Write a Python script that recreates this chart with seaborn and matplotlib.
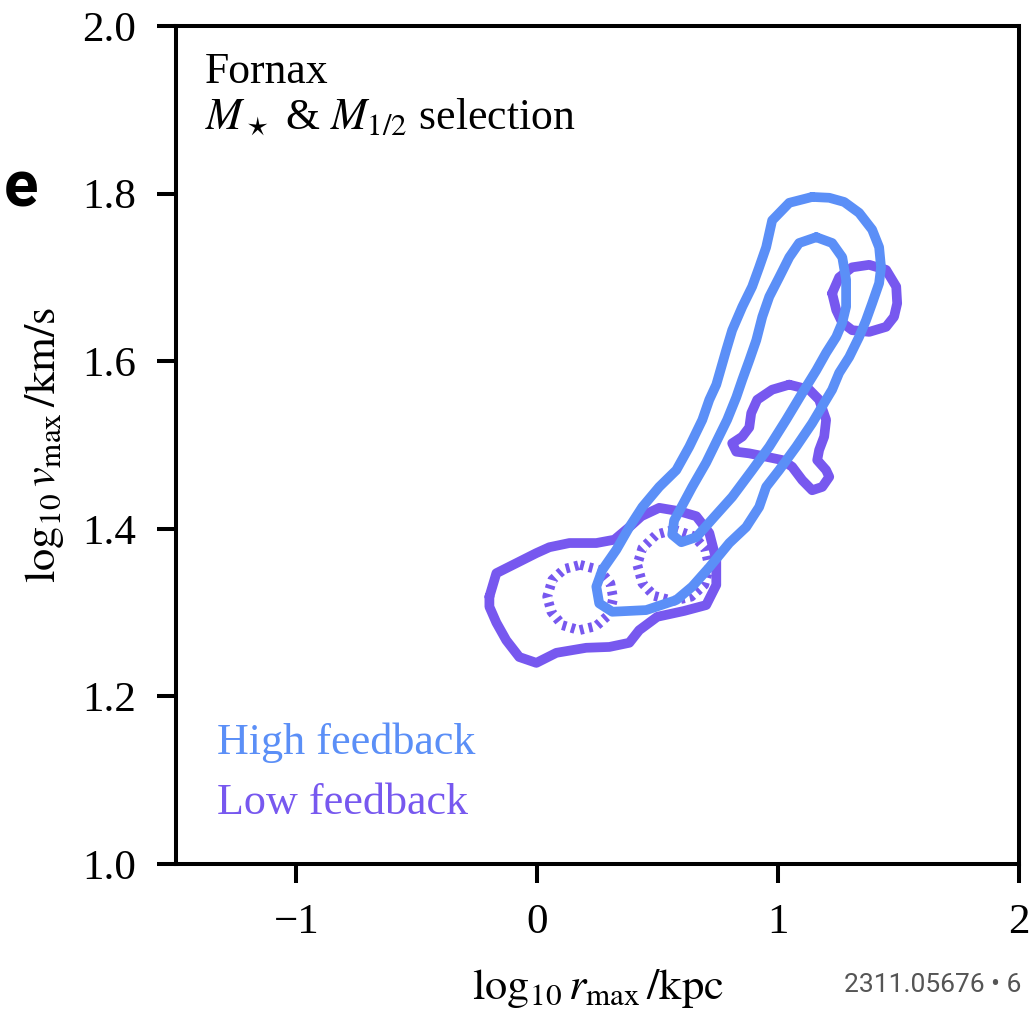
import numpy as np
import pandas as pd
import matplotlib
matplotlib.use('Agg')
import matplotlib.pyplot as plt
import seaborn as sns

# ---------------- data (log10 r_max [kpc], log10 v_max [km/s]) ----------------
# High feedback, outer contour
hi_outer_x = [1.141, 1.212, 1.274, 1.336, 1.390, 1.419, 1.427, 1.419, 1.390, 1.365,
              1.336, 1.295, 1.253, 1.224, 1.199, 1.141, 1.075, 1.004, 0.950, 0.921,
              0.867, 0.797, 0.714, 0.643, 0.577, 0.452, 0.311, 0.257, 0.245, 0.270,
              0.328, 0.382, 0.436, 0.506, 0.577, 0.631, 0.685, 0.714, 0.743, 0.784,
              0.809, 0.851, 0.892, 0.921, 0.950, 0.975, 1.046]
hi_outer_y = [1.796, 1.795, 1.790, 1.777, 1.757, 1.736, 1.712, 1.693, 1.669, 1.649,
              1.629, 1.605, 1.586, 1.566, 1.554, 1.526, 1.498, 1.470, 1.450, 1.426,
              1.402, 1.383, 1.354, 1.331, 1.315, 1.303, 1.301, 1.311, 1.331, 1.351,
              1.375, 1.402, 1.426, 1.450, 1.470, 1.498, 1.530, 1.554, 1.572, 1.613,
              1.637, 1.665, 1.689, 1.712, 1.736, 1.768, 1.789]

# High feedback, inner contour
hi_inner_x = [1.158, 1.224, 1.266, 1.282, 1.282, 1.266, 1.241, 1.199, 1.158, 1.100,
              1.033, 0.963, 0.892, 0.809, 0.734, 0.660, 0.598, 0.560, 0.568, 0.602,
              0.643, 0.701, 0.747, 0.788, 0.826, 0.851, 0.880, 0.909, 0.934, 0.963,
              1.004, 1.046, 1.087]
hi_inner_y = [1.748, 1.741, 1.724, 1.697, 1.665, 1.646, 1.629, 1.610, 1.589, 1.562,
              1.530, 1.498, 1.470, 1.438, 1.414, 1.390, 1.384, 1.393, 1.410, 1.428,
              1.450, 1.479, 1.506, 1.530, 1.557, 1.578, 1.601, 1.625, 1.653, 1.677,
              1.700, 1.724, 1.741]

# Low feedback, outer contour: main blob
lo_blob_x = [-0.199, -0.170, -0.087, -0.004, 0.050, 0.133, 0.245, 0.320, 0.382, 0.432,
             0.506, 0.589, 0.660, 0.714, 0.743, 0.743, 0.701, 0.610, 0.498, 0.423,
             0.382, 0.299, 0.203, 0.079, -0.004, -0.075, -0.129, -0.170, -0.199]
lo_blob_y = [1.319, 1.347, 1.359, 1.371, 1.378, 1.383, 1.383, 1.387, 1.402, 1.415,
             1.425, 1.421, 1.415, 1.395, 1.363, 1.333, 1.309, 1.302, 1.295, 1.279,
             1.264, 1.259, 1.258, 1.252, 1.240, 1.247, 1.267, 1.288, 1.307]

# Low feedback, outer contour: middle island
lo_mid_x = [1.046, 1.129, 1.170, 1.199, 1.191, 1.170, 1.162, 1.199, 1.212, 1.183,
            1.141, 1.100, 1.058, 1.017, 0.950, 0.880, 0.826, 0.809, 0.851, 0.880,
            0.888, 0.913, 0.975]
lo_mid_y = [1.572, 1.566, 1.554, 1.530, 1.510, 1.494, 1.482, 1.470, 1.462, 1.450,
            1.446, 1.458, 1.474, 1.482, 1.486, 1.490, 1.492, 1.502, 1.510, 1.521,
            1.538, 1.554, 1.566]

# Low feedback, outer contour: upper island
lo_top_x = [1.224, 1.253, 1.307, 1.378, 1.448, 1.490, 1.494, 1.481, 1.448, 1.378,
            1.307, 1.266, 1.241]
lo_top_y = [1.681, 1.700, 1.712, 1.715, 1.709, 1.689, 1.669, 1.653, 1.641, 1.635,
            1.637, 1.646, 1.661]

# Low feedback, inner contours (dashed)
lo_in1_x = [0.178, 0.257, 0.303, 0.315, 0.299, 0.245, 0.174, 0.104, 0.058, 0.041,
            0.062, 0.112]
lo_in1_y = [1.357, 1.351, 1.335, 1.317, 1.298, 1.284, 1.279, 1.285, 1.301, 1.319,
            1.339, 1.352]
lo_in2_x = [0.568, 0.651, 0.697, 0.714, 0.693, 0.639, 0.564, 0.485, 0.436, 0.415,
            0.436, 0.494]
lo_in2_y = [1.399, 1.391, 1.376, 1.354, 1.333, 1.319, 1.314, 1.320, 1.335, 1.357,
            1.377, 1.393]

x_ticks = [-1, 0, 1, 2]
y_ticks = [1.0, 1.2, 1.4, 1.6, 1.8, 2.0]

BLUE = '#5b8ff7'
PURPLE = '#7758ef'

contours = [
    ('hi_outer', hi_outer_x, hi_outer_y, BLUE, 'solid'),
    ('hi_inner', hi_inner_x, hi_inner_y, BLUE, 'solid'),
    ('lo_blob', lo_blob_x, lo_blob_y, PURPLE, 'solid'),
    ('lo_mid', lo_mid_x, lo_mid_y, PURPLE, 'solid'),
    ('lo_top', lo_top_x, lo_top_y, PURPLE, 'solid'),
    ('lo_in1', lo_in1_x, lo_in1_y, PURPLE, 'dashed'),
    ('lo_in2', lo_in2_x, lo_in2_y, PURPLE, 'dashed'),
]

# ---------------- style ----------------
sns.set_theme(style='ticks')
plt.rcParams['font.family'] = ['Liberation Serif', 'DejaVu Serif']
plt.rcParams['mathtext.fontset'] = 'stix'
plt.rcParams['axes.linewidth'] = 2.9
plt.rcParams['text.color'] = 'black'
plt.rcParams['axes.labelcolor'] = 'black'
plt.rcParams['xtick.color'] = 'black'
plt.rcParams['ytick.color'] = 'black'

fig = plt.figure(figsize=(10.33, 10.11), dpi=100)
ax = fig.add_axes([0.1704, 0.1454, 0.8161, 0.8289])

LW = 7.0
order = ['lo_blob', 'lo_mid', 'lo_top', 'lo_in1', 'lo_in2', 'hi_outer', 'hi_inner']
for name in order:
    _, xs, ys, col, ls = [c for c in contours if c[0] == name][0]
    df = pd.DataFrame({'x': list(xs) + [xs[0]], 'y': list(ys) + [ys[0]]})
    if ls == 'solid':
        sns.lineplot(data=df, x='x', y='y', sort=False, estimator=None, ax=ax,
                     color=col, lw=LW, solid_joinstyle='round', solid_capstyle='round')
    else:
        sns.lineplot(data=df, x='x', y='y', sort=False, estimator=None, ax=ax,
                     color=col, lw=LW, linestyle=(0, (0.4, 0.53)),
                     dash_capstyle='butt')

ax.set_xlim(-1.5, 2.0)
ax.set_ylim(1.0, 2.0)
ax.set_xticks(x_ticks)
ax.set_xticklabels(['\u2212' + str(abs(t)) if t < 0 else str(t) for t in x_ticks])
ax.set_yticks(y_ticks)
ax.set_yticklabels([f'{t:.1f}' for t in y_ticks])
ax.tick_params(axis='both', direction='out', length=13.5, width=2.9,
               labelsize=31, colors='black', top=False, right=False)
ax.tick_params(axis='x', pad=15)
ax.tick_params(axis='y', pad=15)
for s in ax.spines.values():
    s.set_linewidth(2.9)
    s.set_color('black')

ax.set_xlabel(r'$\log_{10} r_{\rm max}\,/{\rm kpc}$', fontsize=32, labelpad=18)
ax.set_ylabel(r'$\log_{10} v_{\rm max}\,/{\rm km/s}$', fontsize=32, labelpad=12)

ax.text(0.034, 0.945, 'Fornax', transform=ax.transAxes, fontsize=31.5,
        ha='left', va='center')
ax.text(0.034, 0.890, r'$M_\star$ & $M_{1/2}$ selection', transform=ax.transAxes,
        fontsize=31.5, ha='left', va='center')
ax.text(0.049, 0.145, 'High feedback', transform=ax.transAxes, fontsize=31.8,
        color=BLUE, ha='left', va='center')
ax.text(0.049, 0.073, 'Low feedback', transform=ax.transAxes, fontsize=31.8,
        color=PURPLE, ha='left', va='center')

fig.text(0.0203, 0.813, 'e', fontsize=46, fontweight='bold', family='Roboto',
         ha='center', va='center')
fig.text(0.989, 0.026, '2311.05676 \u2022 6', fontsize=19, family='Roboto',
         color='#555555', ha='right', va='center')

fig.savefig('out.png', dpi=100, facecolor='white')
